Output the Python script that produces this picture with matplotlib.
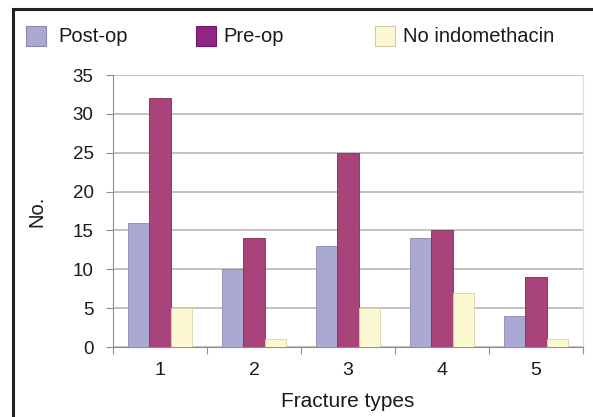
import numpy as np
import matplotlib
matplotlib.use('Agg')
import matplotlib.pyplot as plt
from matplotlib.patches import Rectangle
from matplotlib.lines import Line2D

plt.rcParams['font.family'] = ['Liberation Sans', 'DejaVu Sans']

categories = ['1', '2', '3', '4', '5']
post_op = [16, 10, 13, 14, 4]
pre_op = [32, 14, 25, 15, 9]
no_indo = [5, 1, 5, 7, 1]
series_names = ['Post-op', 'Pre-op', 'No indomethacin']

fig = plt.figure(figsize=(5.93, 4.17), dpi=100)
ax = fig.add_axes([113/593, 1-347/417, (583-113)/593, (347-75)/417])

x = np.arange(len(categories))
w = 0.23
ax.bar(x - w, post_op, w, color='#a9a9d4', edgecolor='#8c88ac', linewidth=0.6, zorder=3)
ax.bar(x, pre_op, w, color='#a8447a', edgecolor='#7a3058', linewidth=0.6, zorder=3)
ax.bar(x + w, no_indo, w, color='#fcf9d2', edgecolor='#d8d3a8', linewidth=0.6, zorder=3)

ax.set_xlim(-0.5, len(categories) - 0.5)
ax.set_ylim(0, 35)
ax.set_yticks(range(0, 36, 5))
ax.yaxis.grid(True, color='#bcaeac', linewidth=1.1, zorder=0)

# ticks between groups, labels centred under groups
ax.set_xticks(np.arange(-0.5, len(categories), 1.0))
ax.set_xticklabels([])
ax.set_xticks(x, minor=True)
ax.set_xticklabels(categories, minor=True)
ax.tick_params(axis='x', which='minor', length=0, labelsize=14, pad=11, labelcolor='#1a1a1a')
ax.tick_params(axis='x', which='major', length=5, color='#9a8a8a', direction='out')
ax.tick_params(axis='y', length=5, color='#9a8a8a', labelsize=13.5, pad=9, labelcolor='#1a1a1a')

ax.spines['top'].set_visible(False)
ax.spines['right'].set_color('#e4dcdc')
ax.spines['left'].set_color('#9a8a8a')
ax.spines['bottom'].set_color('#9a8a8a')

ax.set_ylabel('No.', fontsize=14.5, color='#1a1a1a', labelpad=19)
ax.set_xlabel('Fracture types', fontsize=15, color='#1a1a1a', labelpad=9)

# legend row along the top
legend_colors = [('#a9a9d4', '#8c88ac'), ('#922484', '#6a1a60'), ('#fcf9d2', '#d0cba0')]
sq_x = [26, 196, 375]
txt_x = [58, 223, 403]
for (fc, ec), name, px, tx in zip(legend_colors, series_names, sq_x, txt_x):
    fig.patches.append(Rectangle((px/593, 1-46/417), 20/593, 20/417, transform=fig.transFigure,
                                 facecolor=fc, edgecolor=ec, linewidth=0.8))
    fig.text(tx/593, 1-37/417, name, fontsize=14.5, va='center', ha='left', color='#1a1a1a')

# frame
fig.add_artist(Line2D([13/593, 13/593], [-0.02, 1-9/417], transform=fig.transFigure, color='#222222', linewidth=2.2))
fig.add_artist(Line2D([13/593, 1.02], [1-9/417, 1-9/417], transform=fig.transFigure, color='#222222', linewidth=2.2))

fig.savefig('out.png', dpi=100)
